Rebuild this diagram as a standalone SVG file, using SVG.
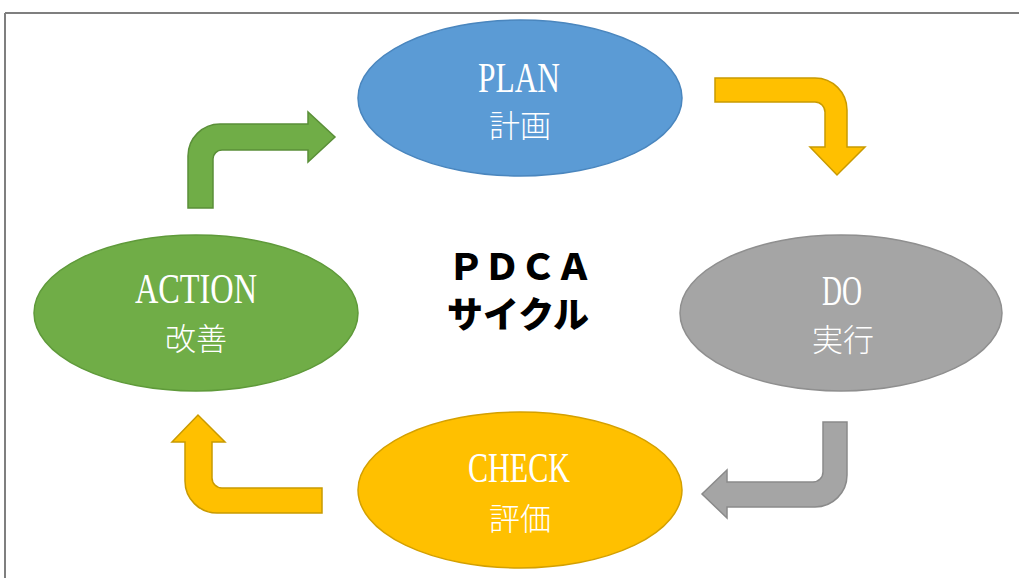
<svg xmlns="http://www.w3.org/2000/svg" width="1019" height="578" viewBox="0 0 1019 578">
<style>
.lat{font-family:"Liberation Serif","DejaVu Serif",serif;font-size:43px;fill:#ffffff;text-anchor:middle}
.cjk{font-family:"Noto Sans CJK JP","Noto Sans CJK SC",sans-serif;font-size:31px;fill:#ffffff;text-anchor:middle;font-weight:300}
.title{font-family:"Noto Sans CJK JP","Noto Sans CJK SC",sans-serif;font-size:36px;fill:#000000;text-anchor:middle;font-weight:900}
.node{stroke-width:1.5}
.arr{stroke-width:1.5}
</style>
<rect x="0" y="0" width="1019" height="578" fill="#ffffff"/>
<g id="frame" stroke="#7f7f7f" stroke-width="2" fill="none">
<line x1="5" y1="13" x2="1019" y2="13"/>
<line x1="5" y1="13" x2="5" y2="578"/>
</g>
<g id="connectors">
<path class="arr" d="M715,78 H815 A32,32 0 0 1 847,110 V147 H865 L837,175 L810,147 H825 V112 A10,10 0 0 0 815,102 H715 Z" fill="#FFC000" stroke="#C99A00"/>
<path class="arr" d="M847,422 V475 A32,32 0 0 1 815,507 H727 V518 L702,494 L727,470 V482 H813 A10,10 0 0 0 823,472 V422 Z" fill="#A5A5A5" stroke="#8a8a8a"/>
<path class="arr" d="M322,488 H222 A10,10 0 0 1 212,478 V442 H225 L198,415 L172,442 H185 V481 A32,32 0 0 0 217,513 H322 Z" fill="#FFC000" stroke="#C99A00"/>
<path class="arr" d="M188,208 V156 A32,32 0 0 1 220,124 H308 V112 L335,137 L308,162 V150 H222 A9,9 0 0 0 213,159 V208 Z" fill="#70AD47" stroke="#5a8f38"/>
</g>
<g id="plan">
<ellipse class="node" cx="520" cy="98" rx="162" ry="78" fill="#5B9BD5" stroke="#4a86be"/>
<text class="lat" x="519" y="92" textLength="82" lengthAdjust="spacingAndGlyphs">PLAN</text>
<text class="cjk" x="520" y="137">計画</text>
</g>
<g id="do">
<ellipse class="node" cx="841" cy="313" rx="161" ry="78" fill="#A5A5A5" stroke="#8f8f8f"/>
<text class="lat" x="842" y="305" textLength="40" lengthAdjust="spacingAndGlyphs">DO</text>
<text class="cjk" x="843" y="351">実行</text>
</g>
<g id="check">
<ellipse class="node" cx="520" cy="490" rx="162" ry="78" fill="#FFC000" stroke="#d4a000"/>
<text class="lat" x="519" y="482" textLength="102" lengthAdjust="spacingAndGlyphs">CHECK</text>
<text class="cjk" x="520" y="530">評価</text>
</g>
<g id="action">
<ellipse class="node" cx="196" cy="313" rx="162" ry="78" fill="#70AD47" stroke="#5f9a3a"/>
<text class="lat" x="196" y="303" textLength="122" lengthAdjust="spacingAndGlyphs">ACTION</text>
<text class="cjk" x="196" y="350">改善</text>
</g>
<g id="title">
<text class="title" x="520" y="280">ＰＤＣＡ</text>
<text class="title" x="518" y="328">サイクル</text>
</g>
</svg>
